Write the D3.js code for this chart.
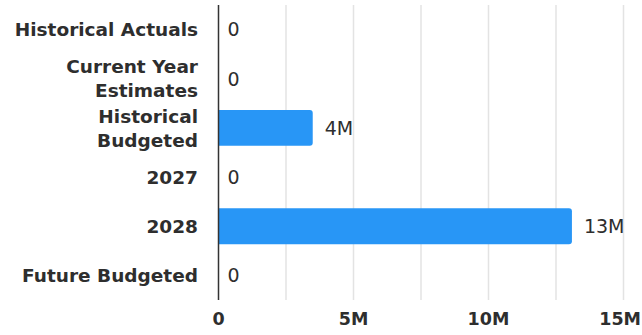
<!DOCTYPE html>
<html><head><meta charset="utf-8">
<script src="https://cdn.jsdelivr.net/npm/d3@7"></script>
<style>
html,body{margin:0;padding:0;background:#fff;}
svg{display:block;}
</style>
</head><body>
<svg id="chart" width="642" height="335"></svg>
<script>
const categories = ["Historical Actuals","Current Year Estimates","Historical Budgeted","2027","2028","Future Budgeted"];
const values = [0, 0, 3490000, 0, 13090000, 0];
const valueLabels = ["0","0","4M","0","13M","0"];
const tickValues = [0, 5000000, 10000000, 15000000];
const tickLabels = ["0","5M","10M","15M"];
const gridValues = [2500000, 5000000, 7500000, 10000000, 12500000, 15000000];

(function(){
const FONT = "'DejaVu Sans', sans-serif";
const svg = d3.select("#chart");
const pLeft = 218.5, pRight = 623.5, pTop = 5, pBottom = 300;
const x = d3.scaleLinear().domain([0, 15000000]).range([pLeft, pRight]);
const y = d3.scaleBand().domain(categories).range([pTop, pBottom]).paddingInner(0.27).paddingOuter(0.135);

// gridlines
svg.append("g").selectAll("line").data(gridValues).join("line")
  .attr("x1", d => x(d)).attr("x2", d => x(d))
  .attr("y1", pTop).attr("y2", pBottom)
  .attr("stroke", "#e3e3e3").attr("stroke-width", 1.5);

// bars
const r = 3;
svg.append("g").selectAll("path").data(categories.map((c,i)=>({c, v: values[i]})).filter(d=>d.v>0)).join("path")
  .attr("fill", "#2896f6")
  .attr("d", d => {
    const x0 = x(0), x1 = x(d.v), y0 = y(d.c), h = y.bandwidth();
    return `M${x0},${y0}H${x1-r}Q${x1},${y0} ${x1},${y0+r}V${y0+h-r}Q${x1},${y0+h} ${x1-r},${y0+h}H${x0}Z`;
  });

// axis line
svg.append("line").attr("x1", x(0)).attr("x2", x(0)).attr("y1", pTop).attr("y2", pBottom)
  .attr("stroke", "#333").attr("stroke-width", 1.5);

// value labels
svg.append("g").selectAll("text").data(categories).join("text")
  .attr("x", (d,i) => x(values[i]) + (values[i] > 0 ? 12 : 9))
  .attr("y", d => y(d) + y.bandwidth()/2)
  .attr("dy", "0.36em")
  .attr("font-family", FONT).attr("font-size", 19).attr("font-weight", 400)
  .attr("fill", "#2e2e2e")
  .text((d,i) => valueLabels[i]);

// category labels with wrapping
const catG = svg.append("g");
categories.forEach(c => {
  const t = catG.append("text")
    .attr("x", 198).attr("text-anchor", "end")
    .attr("font-family", FONT).attr("font-size", 18.5).attr("font-weight", 700)
    .attr("fill", "#2e2e2e");
  const words = c.split(" ");
  let lines = [], line = [];
  const probe = t.append("tspan");
  words.forEach(w => {
    line.push(w);
    probe.text(line.join(" "));
    if (probe.node().getComputedTextLength() > 196 && line.length > 1) {
      line.pop(); lines.push(line.join(" ")); line = [w];
    }
  });
  lines.push(line.join(" "));
  probe.remove();
  if (c === "Historical Budgeted") lines = ["Historical", "Budgeted"];
  const lh = 24;
  const cy = y(c) + y.bandwidth()/2;
  lines.forEach((l, i) => {
    t.append("tspan").attr("x", 198)
      .attr("y", cy + (i - (lines.length-1)/2) * lh)
      .attr("dy", "0.36em").text(l);
  });
});

// x tick labels
svg.append("g").selectAll("text").data(tickValues).join("text")
  .attr("x", d => x(d)).attr("y", 319).attr("dy", "0.36em")
  .attr("text-anchor", "middle")
  .attr("font-family", FONT).attr("font-size", 17.5).attr("font-weight", 700)
  .attr("fill", "#2e2e2e")
  .text((d,i) => tickLabels[i])
  .each(function(){
    const w = this.getComputedTextLength();
    const cx = +this.getAttribute("x");
    if (cx + w/2 > 641) this.setAttribute("x", 641 - w/2);
  });
})();
</script>
</body></html>
